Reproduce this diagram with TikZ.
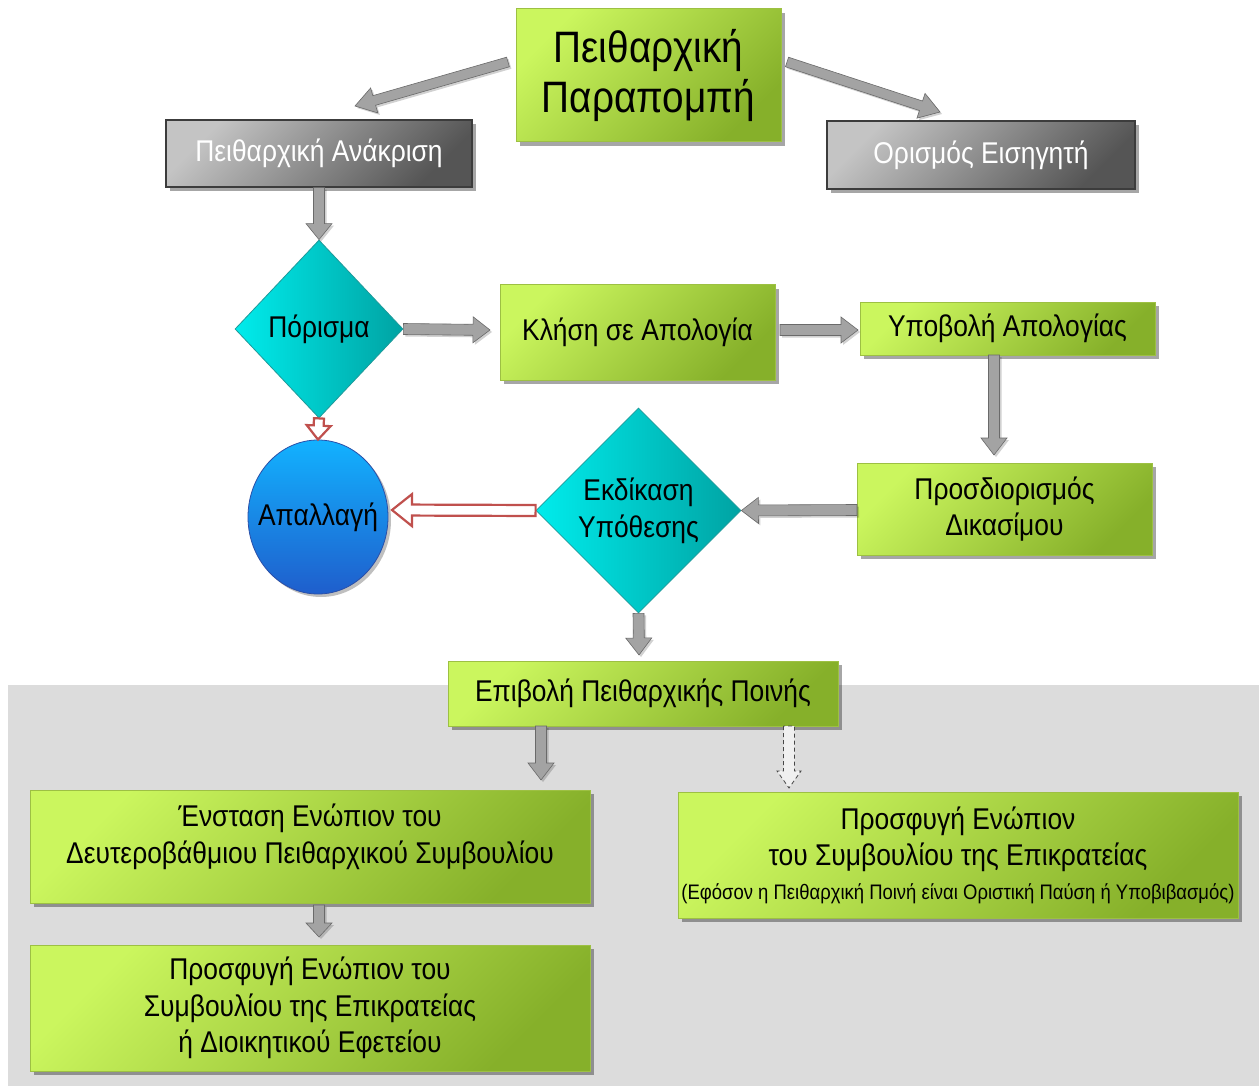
\documentclass[tikz,border=0pt]{standalone}
\usepackage{fontspec}
\setmainfont{Liberation Sans}[FakeStretch=0.88]
\usetikzlibrary{shapes.geometric,shadows,calc}
\definecolor{gA}{HTML}{CBF65E}
\definecolor{gB}{HTML}{86B02A}
\definecolor{gC}{HTML}{9DC043}
\definecolor{grA}{HTML}{C4C4C4}
\definecolor{grB}{HTML}{555555}
\definecolor{grC}{HTML}{3C3C3C}
\definecolor{cyA}{HTML}{00ECEC}
\definecolor{cyB}{HTML}{00A3A3}
\definecolor{cyC}{HTML}{1E9A9A}
\definecolor{blA}{HTML}{12B2FF}
\definecolor{blB}{HTML}{1F5ECC}
\definecolor{blC}{HTML}{2A4FA8}
\definecolor{rdc}{HTML}{C0504D}
\definecolor{bgc}{HTML}{DCDCDC}
\definecolor{arF}{HTML}{A3A3A3}
\definecolor{arD}{HTML}{6A6A6A}
\newcommand\fatarrow[6][]{%
  \path[#1] let \p1=(#2), \p2=(#3), \n1={atan2(\y2-\y1,\x2-\x1)}, \n2={veclen(\x2-\x1,\y2-\y1)} in
   ([shift={(\p1)},rotate=\n1]0pt,-#4pt) --
   ([shift={(\p1)},rotate=\n1]\n2-#6pt,-#4pt) --
   ([shift={(\p1)},rotate=\n1]\n2-#6pt,-#5pt) --
   ([shift={(\p1)},rotate=\n1]\n2,0pt) --
   ([shift={(\p1)},rotate=\n1]\n2-#6pt,#5pt) --
   ([shift={(\p1)},rotate=\n1]\n2-#6pt,#4pt) --
   ([shift={(\p1)},rotate=\n1]0pt,#4pt) -- cycle;}
\tikzset{
  shad/.style={drop shadow={shadow xshift=4pt, shadow yshift=-4pt, opacity=0.35, fill=black}},
  greenbox/.style={rectangle, draw=gC, line width=1pt, top color=gA, bottom color=gB, shading angle=45,
    shad, align=center, inner sep=2pt, text=black, font=\fontsize{30}{36.5}\selectfont},
  graybox/.style={rectangle, draw=grC, line width=1.2pt, top color=grA, bottom color=grB, shading angle=45,
    shad, align=center, inner sep=2pt, text=white, font=\fontsize{30}{36}\selectfont},
  diam/.style={diamond, draw=cyC, line width=0.8pt, left color=cyA, right color=cyB, inner sep=0pt,
    align=center, text=black, font=\fontsize{30}{37}\selectfont},
  ellnode/.style={ellipse, draw=blC, line width=0.8pt, top color=blA, bottom color=blB, inner xsep=-30pt, inner ysep=0pt,
    align=center, text=black, font=\fontsize{30}{36}\selectfont,
    drop shadow={shadow xshift=3pt, shadow yshift=-3pt, opacity=0.25, fill=black}},
  grayarrow/.style={fill=arF, draw=arD, line width=0.6pt,
    drop shadow={shadow xshift=2pt, shadow yshift=-2pt, opacity=0.18, fill=black}},
  redarrow/.style={fill=white, draw=rdc, line width=2.2pt},
  dasharrow/.style={fill=gray!12, draw=gray!55!black, line width=0.8pt, dash pattern=on 4pt off 3pt}
}
\begin{document}
\begin{tikzpicture}[x=1pt,y=-1pt]
\useasboundingbox (0,0) rectangle (1259,1086);
\fill[white] (0,0) rectangle (1259,1086);
\fill[bgc] (8,685) rectangle (1259,1086);

% nodes
\node[greenbox, minimum width=265pt, minimum height=133pt, font=\fontsize{44}{50}\selectfont] (par) at (648.5,75.5) {Πειθαρχική\\Παραπομπή};
\node[graybox, minimum width=306pt, minimum height=67pt] (ana) at (319,153.5) {Πειθαρχική Ανάκριση};
\node[graybox, minimum width=308pt, minimum height=68pt] (eis) at (981,155) {Ορισμός Εισηγητή};
\node[diam, minimum width=168pt, minimum height=178pt] (por) at (319,329) {Πόρισμα};
\node[greenbox, minimum width=275pt, minimum height=95pt] (kli) at (637.5,332.5) {Κλήση σε Απολογία};
\node[greenbox, minimum width=295pt, minimum height=53pt] (ypo) at (1007.5,328.5) {Υποβολή Απολογίας};
\node[greenbox, minimum width=295pt, minimum height=92pt] (pro) at (1004.5,509) {Προσδιορισμός\\Δικασίμου};
\node[diam, minimum width=205pt, minimum height=205pt] (ekd) at (638.5,510.5) {Εκδίκαση\\Υπόθεσης};
\node[ellnode, minimum width=140pt, minimum height=154pt] (apa) at (318,517) {Απαλλαγή};
\node[greenbox, minimum width=390pt, minimum height=65pt] (epi) at (643,693.5) {Επιβολή Πειθαρχικής Ποινής};
\node[greenbox, minimum width=560pt, minimum height=113pt, text depth=26pt] (ens) at (310,846.5) {Ένσταση Ενώπιον του\\Δευτεροβάθμιου Πειθαρχικού Συμβουλίου};
\node[greenbox, minimum width=560pt, minimum height=126pt] (prl) at (310,1008) {Προσφυγή Ενώπιον του\\Συμβουλίου της Επικρατείας\\ή Διοικητικού Εφετείου};
\node[greenbox, minimum width=560pt, minimum height=126pt] (prr) at (958,855) {Προσφυγή Ενώπιον\\του Συμβουλίου της Επικρατείας\\[-3pt]{\fontsize{21}{25}\selectfont(Εφόσον η Πειθαρχική Ποινή είναι Οριστική Παύση ή Υποβιβασμός)}};

% connector end points
\coordinate (a1s) at (508,62);   \coordinate (a1e) at (355,106);
\coordinate (a2s) at (787,62);   \coordinate (a2e) at (940,112);
\coordinate (a4e) at (490,330);
\coordinate (a5s) at (780,330);  \coordinate (a5e) at (858,330);
\coordinate (a6s) at (994,355);  \coordinate (a6e) at (994,455);
\coordinate (a7s) at (857,510);
\coordinate (a8e) at (639,655);
\coordinate (a9s) at (541,726);  \coordinate (a9e) at (541,780);
\coordinate (a10s) at (789,726); \coordinate (a10e) at (789,788);
\coordinate (a11s) at (319,905); \coordinate (a11e) at (319,937);
\coordinate (r2e) at (392,510);

% connectors
\fatarrow[grayarrow]{a1s}{a1e}{5}{13}{20}
\fatarrow[grayarrow]{a2s}{a2e}{5}{13}{20}
\fatarrow[grayarrow]{ana.south}{por.north}{5.5}{13}{16}
\fatarrow[grayarrow]{por.east}{a4e}{5.5}{13}{17}
\fatarrow[grayarrow]{a5s}{a5e}{5.5}{13}{17}
\fatarrow[grayarrow]{a6s}{a6e}{5.5}{13}{17}
\fatarrow[grayarrow]{a7s}{ekd.east}{5.5}{13}{17}
\fatarrow[grayarrow]{ekd.south}{a8e}{5.5}{13}{17}
\fatarrow[grayarrow]{a9s}{a9e}{5.5}{13}{17}
\fatarrow[dasharrow]{a10s}{a10e}{5.5}{12}{17}
\fatarrow[grayarrow]{a11s}{a11e}{5.5}{13}{14}
\fatarrow[redarrow]{por.south}{apa.north}{5}{12}{14}
\fatarrow[redarrow]{ekd.west}{r2e}{5.5}{16}{20}
\end{tikzpicture}
\end{document}
